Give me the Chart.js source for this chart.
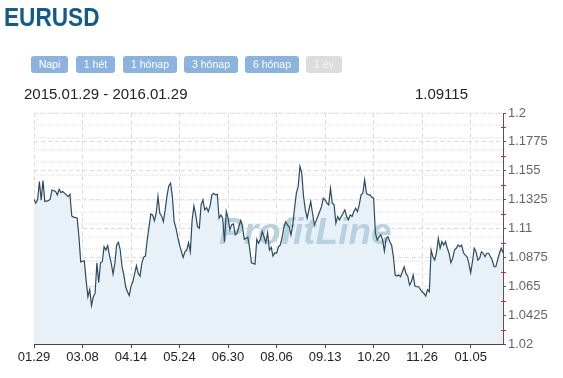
<!DOCTYPE html>
<html lang="hu">
<head>
<meta charset="utf-8">
<script src="https://cdn.jsdelivr.net/npm/chart.js@4"></script>
<style>
  body { margin: 0; width: 563px; height: 378px; overflow: hidden; background: #fff; position: relative;
         font-family: "Liberation Sans", Arial, sans-serif; }
  #chart { position: absolute; left: 0; top: 0; }
  .title { position: absolute; left: 4px; top: 4px; font-size: 26px; line-height: 26px; font-weight: bold;
           color: #105b8a; transform: scaleX(0.87); transform-origin: 0 0; }
  .btn { position: absolute; top: 56px; height: 17px; line-height: 17px; font-size: 10.5px; color: #fff;
         background: #8ab3e0; border-radius: 3px; text-align: center; }
  .btn.off { background: #dcdcdc; color: #f6f6f6; }
  .range { position: absolute; left: 24px; top: 86px; font-size: 15px; line-height: 15px; color: #222; }
  .last { position: absolute; left: 300px; width: 168px; text-align: right; top: 86px; font-size: 15px; line-height: 15px; color: #222; }
</style>
</head>
<body>
<canvas id="chart" width="563" height="378"></canvas>
<div class="title">EURUSD</div>
<div class="btn" style="left:31px;width:37px">Napi</div>
<div class="btn" style="left:76px;width:39px">1 hét</div>
<div class="btn" style="left:123px;width:54px">1 hónap</div>
<div class="btn" style="left:184px;width:54px">3 hónap</div>
<div class="btn" style="left:245px;width:54px">6 hónap</div>
<div class="btn off" style="left:306px;width:36px">1 év</div>
<div class="range">2015.01.29 - 2016.01.29</div>
<div class="last">1.09115</div>
<script>
// trading day index (0 = 2015.01.29) and EURUSD close
const days = [0,1,2,3,4,5,6,8,9,10,12,13,14,15,16,18,19,20,21,22,24,25,26,28,29,30,31,32,33,34,35,36,37,38,39,40,
  41,42,43,44,45,46,47,48,49,50,51,52,53,54,55,57,58,59,60,61,62,63,65,66,67,68,69,70,71,72,73,74,75,76,77,78,79,80,
  81,83,84,85,86,87,88,89,90,91,92,93,94,95,96,97,98,99,100,101,102,103,104,105,106,107,108,109,110,111,112,113,114,
  115,116,117,118,119,120,121,122,123,124,125,126,127,128,129,130,131,132,133,134,135,136,137,138,139,140,141,142,
  143,144,145,146,147,148,149,150,151,152,153,154,155,156,157,159,160,161,162,163,164,165,166,167,168,169,170,171,
  172,173,174,175,176,177,178,179,180,181,182,183,184,185,186,187,188,189,190,191,192,193,194,195,196,197,198,199,
  200,201,202,203,204,205,206,207,208,209,210,211,212,213,214,216,217,218,219,220,221,222,223,224,225,226,227,228,
  229,230,231,232,233,234,235,236,237,238,239,240,241,242,243,244,245,246,247,248,249,250,251,252,253,254,255,256,
  257,258,259,260,261];
const rates = [1.1328,1.1297,1.1323,1.1466,1.1320,1.1474,1.1310,1.1317,1.1328,1.1400,1.1388,1.1362,1.1406,1.1380,
  1.1388,1.1362,1.1349,1.1367,1.1198,1.1188,1.1182,1.1036,1.0840,1.0849,1.0698,1.0568,1.0625,1.0500,1.0568,1.0594,
  1.0833,1.0677,1.0833,1.0841,1.0958,1.0932,1.0966,1.0890,1.0828,1.0745,1.0828,1.0971,1.0993,1.0932,1.0802,1.0737,
  1.0646,1.0607,1.0578,1.0651,1.0685,1.0810,1.0750,1.0729,1.0828,1.0875,1.0885,1.1010,1.1214,1.1206,1.1161,1.1219,
  1.1350,1.1219,1.1198,1.1153,1.1245,1.1354,1.1432,1.1453,1.1349,1.1153,1.1102,1.1032,1.0971,1.0875,1.0919,1.0932,
  1.0989,1.0919,1.1167,1.1276,1.1206,1.1114,1.1102,1.1284,1.1323,1.1245,1.1263,1.1232,1.1276,1.1362,1.1375,1.1362,
  1.1367,1.1180,1.1206,1.1180,1.0997,1.1232,1.1180,1.1089,1.1128,1.1135,1.1050,1.1063,1.1114,1.1161,1.1114,1.1016,
  1.1024,1.1032,1.0946,1.0833,1.0828,1.0823,1.1016,1.0985,1.1016,1.1075,1.1036,1.0989,1.1067,1.0932,1.0953,1.0885,
  1.0911,1.0907,1.0958,1.0971,1.1024,1.1102,1.1153,1.1128,1.1114,1.1050,1.1128,1.1258,1.1375,1.1427,1.1583,1.1531,
  1.1349,1.1245,1.1180,1.1245,1.1310,1.1219,1.1128,1.1160,1.1232,1.1270,1.1336,1.1323,1.1297,1.1284,1.1414,1.1297,
  1.1284,1.1141,1.1193,1.1167,1.1193,1.1219,1.1245,1.1193,1.1167,1.1206,1.1193,1.1232,1.1258,1.1232,1.1284,1.1362,
  1.1375,1.1479,1.1375,1.1362,1.1362,1.1344,1.1336,1.1063,1.1010,1.1036,1.1050,1.1010,1.0924,1.1024,1.1036,1.0997,
  1.0971,1.0880,1.0737,1.0729,1.0737,1.0724,1.0763,1.0802,1.0750,1.0729,1.0659,1.0685,1.0737,1.0651,1.0646,1.0646,
  1.0607,1.0594,1.0573,1.0625,1.0607,1.0932,1.0880,1.0854,1.0911,1.1024,1.0946,1.0997,1.0971,1.0997,1.0946,1.0907,
  1.0833,1.0867,1.0932,1.0946,1.0971,1.0958,1.0971,1.0911,1.0893,1.0880,1.0828,1.0755,1.0841,1.0946,1.0919,1.0854,
  1.0867,1.0919,1.0907,1.0880,1.0907,1.0907,1.0880,1.0854,1.0802,1.0802,1.0854,1.0907,1.0946,1.09115];

const tickDays = [0, 27, 54, 81, 108, 135, 162, 189, 216, 243];
const tickLabels = ['01.29', '03.08', '04.14', '05.24', '06.30', '08.06', '09.13', '10.20', '11.26', '01.05'];
const yTicks = [1.02, 1.0425, 1.065, 1.0875, 1.11, 1.1325, 1.155, 1.1775, 1.2];
const yTickLabels = ['1.02', '1.0425', '1.065', '1.0875', '1.11', '1.1325', '1.155', '1.1775', '1.2'];

const FONT = '"Liberation Sans", Arial, sans-serif';
Chart.defaults.font.family = FONT;

// fine dotted rows behind the dashed grid
const minorStep = 0.0675 / 7;
const minorTicks = [];
for (let v = 1.2; v > 1.02; v -= minorStep) minorTicks.push(v);

const extras = {
  id: 'extras',
  beforeDatasetDraw(chart) {
    const ctx = chart.ctx;
    ctx.save();
    ctx.font = 'italic bold 37px ' + FONT;
    ctx.fillStyle = '#b8d1de';
    ctx.textBaseline = 'alphabetic';
    ctx.fillText('ProfitLine', 219, 244);
    ctx.restore();
  },
  afterDraw(chart) {
    const ctx = chart.ctx, s = chart.scales.y;
    ctx.save();
    ctx.strokeStyle = '#e3241b';
    ctx.lineWidth = 1;
    ctx.beginPath();
    for (let i = 0; i < yTicks.length - 1; i++) {
      const py = Math.round(s.getPixelForValue((yTicks[i] + yTicks[i + 1]) / 2)) + 0.5;
      ctx.moveTo(s.left - 2, py);
      ctx.lineTo(s.left + 3, py);
    }
    ctx.stroke();
    ctx.restore();
  }
};

new Chart(document.getElementById('chart'), {
  type: 'line',
  data: {
    datasets: [{
      data: days.map((d, i) => ({ x: d, y: rates[i] })),
      borderColor: '#2d4b5e',
      borderWidth: 1.2,
      backgroundColor: '#e9f1f8',
      fill: 'start',
      pointRadius: 0,
      tension: 0
    }]
  },
  options: {
    responsive: false,
    animation: false,
    devicePixelRatio: 1,
    layout: { padding: { left: 34, top: 113, right: 0, bottom: 0 } },
    plugins: { legend: { display: false }, tooltip: { enabled: false } },
    scales: {
      x: {
        type: 'linear', min: 0, max: 261,
        afterBuildTicks: s => { s.ticks = tickDays.map(v => ({ value: v })); },
        afterFit: s => { s.height = 34; },
        ticks: { callback: (v, i) => tickLabels[i], color: '#222', font: { size: 13 }, padding: 2,
                 maxRotation: 0, autoSkip: false },
        grid: { color: '#dadada', tickColor: '#444', tickLength: 4, tickBorderDash: [] },
        border: { color: '#444', dash: [4, 3] }
      },
      y: {
        position: 'right', min: 1.02, max: 1.2,
        afterBuildTicks: s => { s.ticks = yTicks.map(v => ({ value: v })); },
        afterFit: s => { s.width = 60; },
        ticks: { callback: (v, i) => yTickLabels[i], color: '#666', font: { size: 13 }, padding: 2 },
        grid: { color: '#dadada', tickColor: '#555', tickLength: 3, tickBorderDash: [] },
        border: { color: '#555', dash: [4, 3] }
      },
      y2: {
        position: 'left', min: 1.02, max: 1.2,
        afterBuildTicks: s => { s.ticks = minorTicks.map(v => ({ value: v })); },
        afterFit: s => { s.width = 0; },
        ticks: { display: false },
        grid: { color: '#ededed', lineWidth: 2, drawTicks: false },
        border: { display: false, dash: [1, 1] }
      }
    }
  },
  plugins: [extras]
});
</script>
</body>
</html>
